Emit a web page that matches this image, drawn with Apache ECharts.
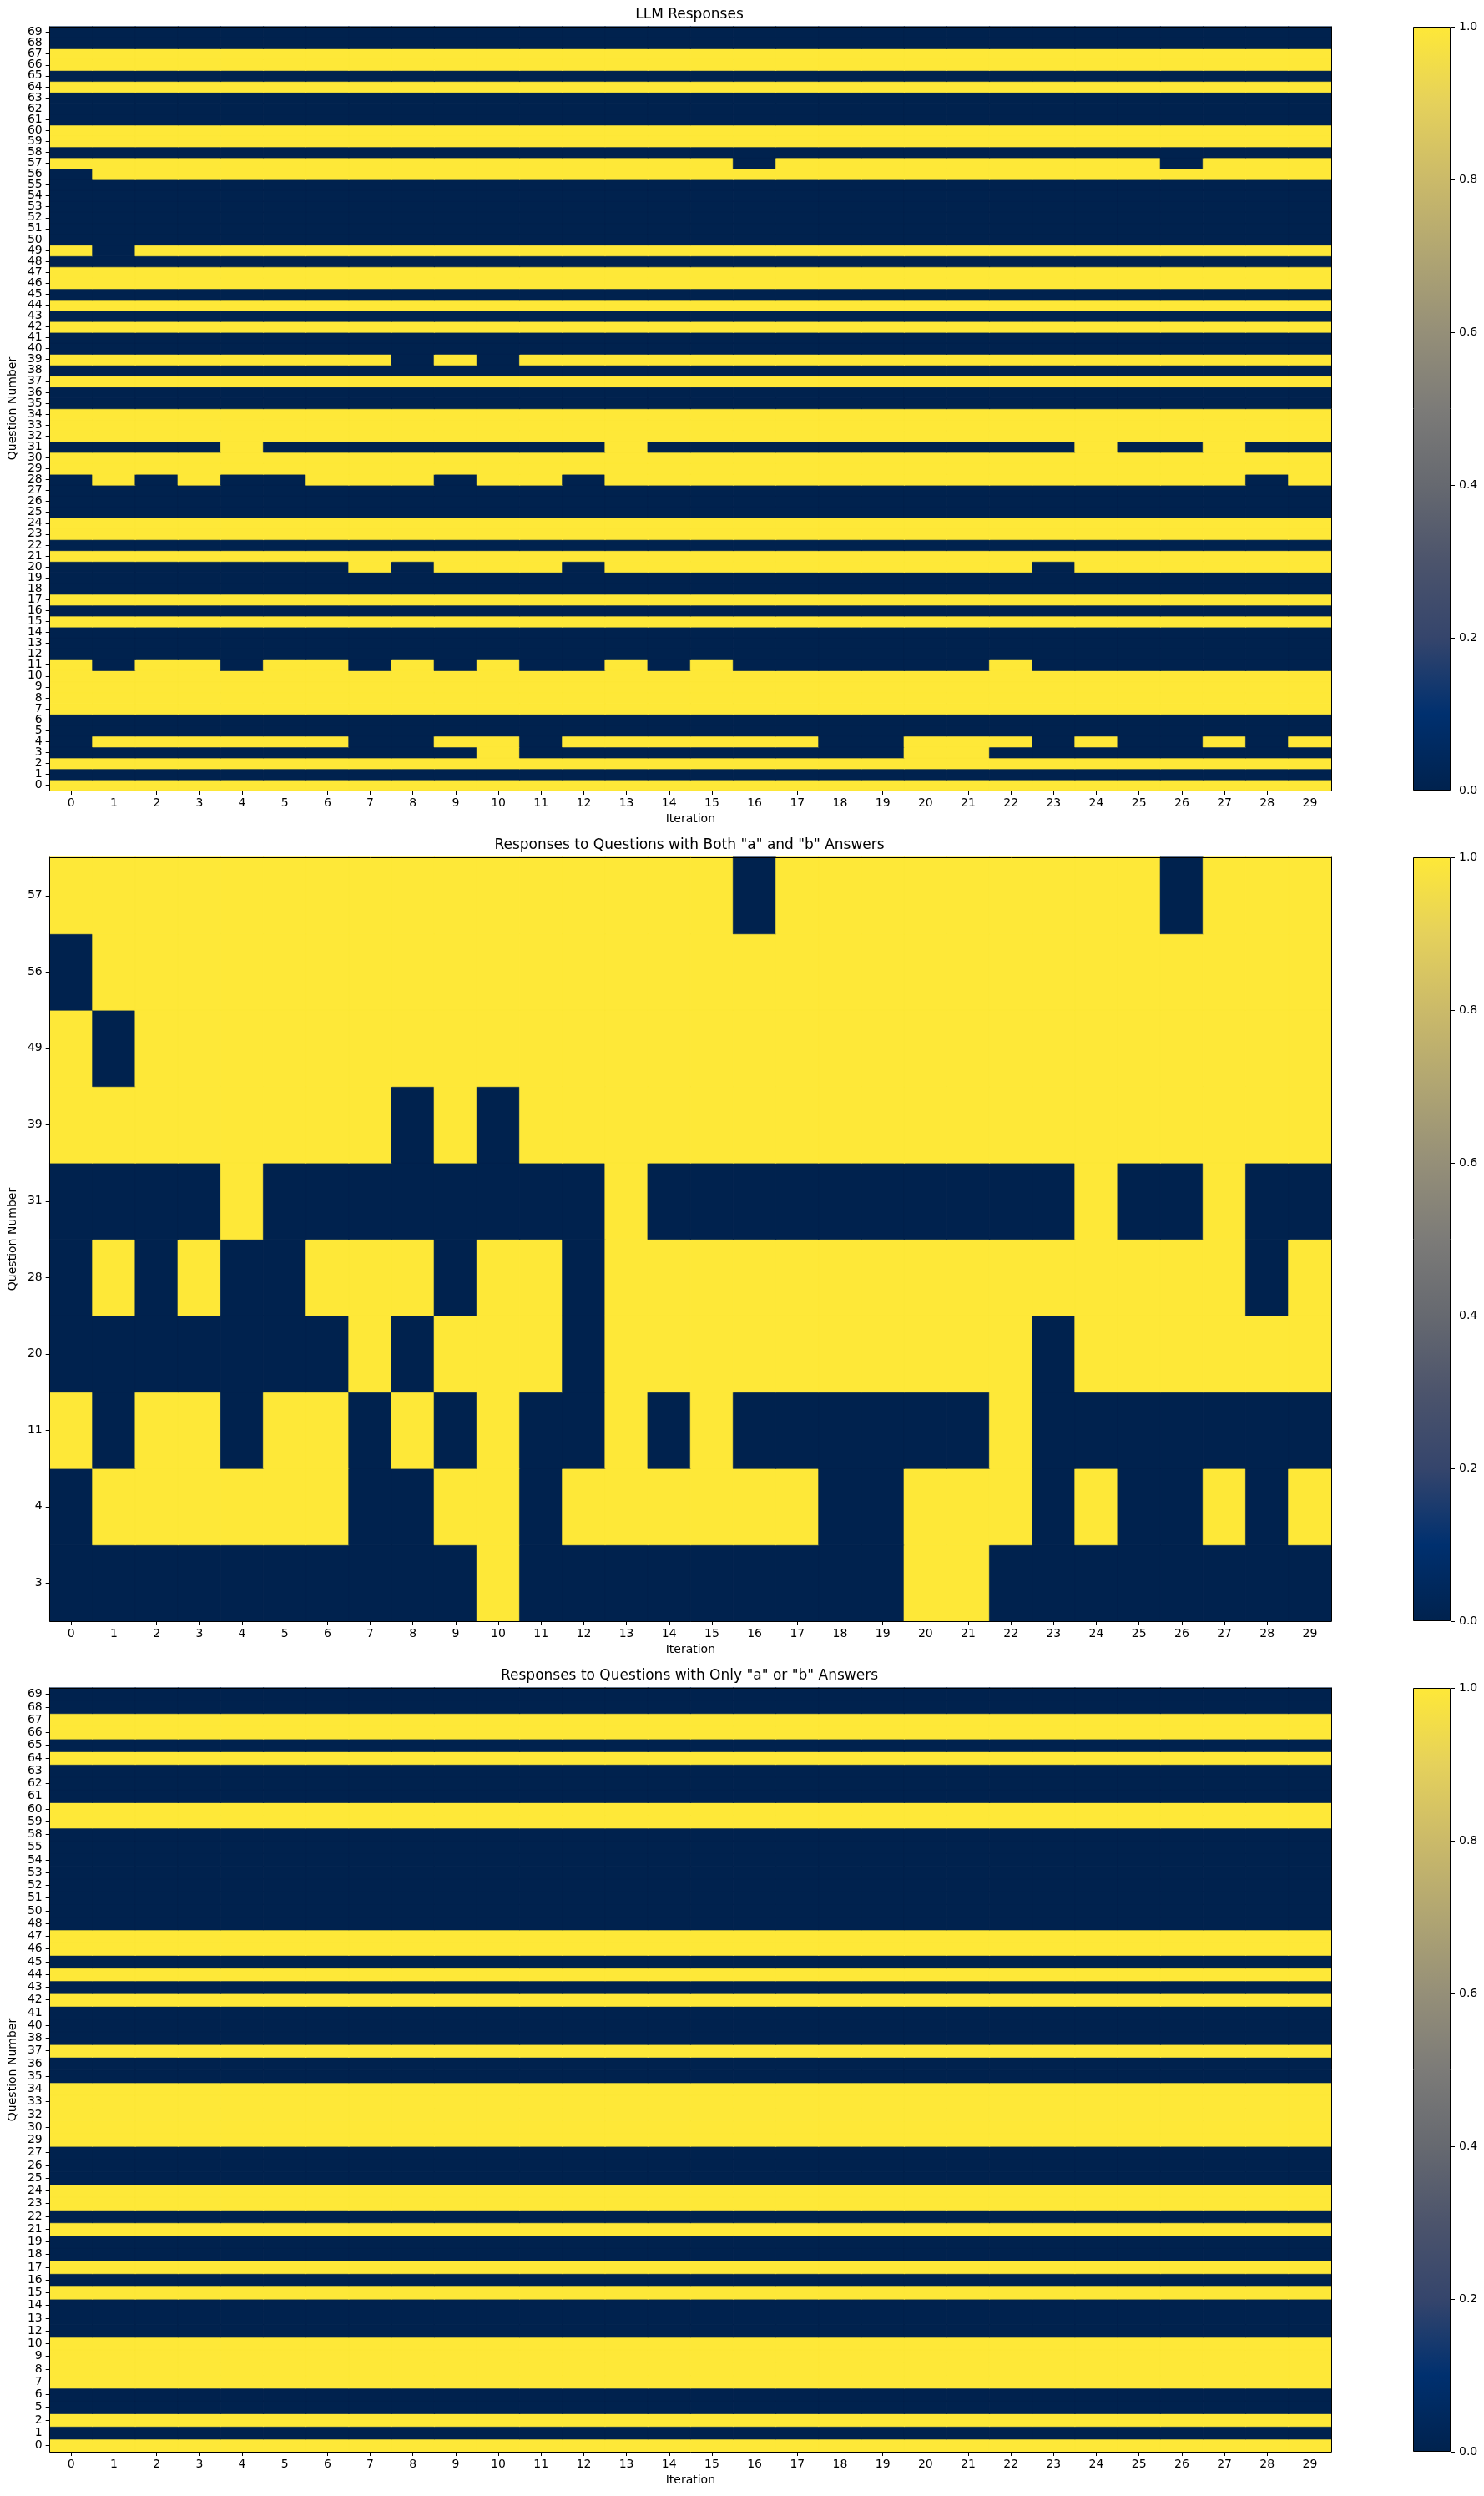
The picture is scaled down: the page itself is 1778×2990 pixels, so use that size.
<!DOCTYPE html>
<html>
<head>
<meta charset="utf-8">
<script src="https://cdn.jsdelivr.net/npm/echarts@6/dist/echarts.min.js"></script>
<style>
html,body{margin:0;padding:0;background:#fff;}
#chart{width:1778px;height:2990px;}
</style>
</head>
<body>
<div id="chart"></div>
<script>
// ---- Data ----
const iterationLabels = ['0','1','2','3','4','5','6','7','8','9','10','11','12','13','14','15','16','17','18','19','20','21','22','23','24','25','26','27','28','29'];

// Questions whose answer is the same in all 30 iterations
const constantQuestions = [0,1,2,5,6,7,8,9,10,12,13,14,15,16,17,18,19,21,22,23,24,25,26,27,29,30,32,33,34,35,36,37,38,40,41,42,43,44,45,46,47,48,50,51,52,53,54,55,58,59,60,61,62,63,64,65,66,67,68,69];
const constantValues    = [1,0,1,0,0,1,1,1,1,0,0,0,1,0,1,0,0,1,0,1,1,0,0,0,1,1,1,1,1,0,0,1,0,0,0,1,0,1,0,1,1,0,0,0,0,0,0,0,0,1,1,0,0,0,1,0,1,1,0,0];

// Questions with both "a" and "b" answers across iterations
const mixedQuestions = [3,4,11,20,28,31,39,49,56,57];
const q3  = [0,0,0,0,0,0,0,0,0,0,1,0,0,0,0,0,0,0,0,0,1,1,0,0,0,0,0,0,0,0];
const q4  = [0,1,1,1,1,1,1,0,0,1,1,0,1,1,1,1,1,1,0,0,1,1,1,0,1,0,0,1,0,1];
const q11 = [1,0,1,1,0,1,1,0,1,0,1,0,0,1,0,1,0,0,0,0,0,0,1,0,0,0,0,0,0,0];
const q20 = [0,0,0,0,0,0,0,1,0,1,1,1,0,1,1,1,1,1,1,1,1,1,1,0,1,1,1,1,1,1];
const q28 = [0,1,0,1,0,0,1,1,1,0,1,1,0,1,1,1,1,1,1,1,1,1,1,1,1,1,1,1,0,1];
const q31 = [0,0,0,0,1,0,0,0,0,0,0,0,0,1,0,0,0,0,0,0,0,0,0,0,1,0,0,1,0,0];
const q39 = [1,1,1,1,1,1,1,1,0,1,0,1,1,1,1,1,1,1,1,1,1,1,1,1,1,1,1,1,1,1];
const q49 = [1,0,1,1,1,1,1,1,1,1,1,1,1,1,1,1,1,1,1,1,1,1,1,1,1,1,1,1,1,1];
const q56 = [0,1,1,1,1,1,1,1,1,1,1,1,1,1,1,1,1,1,1,1,1,1,1,1,1,1,1,1,1,1];
const q57 = [1,1,1,1,1,1,1,1,1,1,1,1,1,1,1,1,0,1,1,1,1,1,1,1,1,1,0,1,1,1];
const mixedRows = [q3,q4,q11,q20,q28,q31,q39,q49,q56,q57];

const colorbarTicks = [0, 0.2, 0.4, 0.6, 0.8, 1.0];
const titles = ['LLM Responses', 'Responses to Questions with Both "a" and "b" Answers', 'Responses to Questions with Only "a" or "b" Answers'];

// cividis colormap
const cividis = ['#00224e','#00306f','#35456c','#4c546c','#666970','#7c7b78','#958f78','#b0a572','#cbba69','#e5d15b','#fee838'];

// ---- Build ----
function rowFor(q) {
  const mi = mixedQuestions.indexOf(q);
  if (mi >= 0) return mixedRows[mi];
  const ci = constantQuestions.indexOf(q);
  return iterationLabels.map(() => constantValues[ci]);
}
const allQuestions = [];
for (let q = 0; q < 70; q++) allQuestions.push(q);
const panelQuestions = [allQuestions, mixedQuestions, constantQuestions];

function heatData(qs) {
  const d = [];
  qs.forEach((q, yi) => {
    const r = rowFor(q);
    r.forEach((v, xi) => d.push({
      value: [xi, yi, v],
      itemStyle: {borderColor: v >= 0.5 ? cividis[cividis.length - 1] : cividis[0], borderWidth: 0.6}
    }));
  });
  return d;
}

const FONT = 'DejaVu Sans';
const panelTops = [32, 1027, 2022];
const panelH = 915;
const plotLeft = 57, plotW = 1538;
const cbLeft = 1693, cbW = 45;

const grids = [], xAxes = [], yAxes = [], series = [], titleArr = [];
const black = '#000';

panelTops.forEach((top, p) => {
  grids.push({left: plotLeft, top: top, width: plotW, height: panelH, containLabel: false});
  const cats = panelQuestions[p].map(String);
  xAxes.push({
    type: 'category', gridIndex: p, data: iterationLabels, position: 'bottom', z: 10,
    axisLine: {show: true, lineStyle: {color: black, width: 1}},
    axisTick: {show: true, alignWithLabel: true, length: 5, lineStyle: {color: black}},
    axisLabel: {interval: 0, color: black, fontFamily: FONT, fontSize: 14, margin: 8},
    splitLine: {show: false},
    name: 'Iteration', nameLocation: 'middle', nameGap: 27,
    nameTextStyle: {color: black, fontFamily: FONT, fontSize: 14}
  });
  xAxes.push({
    type: 'category', gridIndex: p, data: iterationLabels, position: 'top', z: 10,
    axisLine: {show: true, lineStyle: {color: black, width: 1}},
    axisTick: {show: false}, axisLabel: {show: false}, splitLine: {show: false}
  });
  yAxes.push({
    type: 'category', gridIndex: p, data: cats, position: 'left', z: 10,
    axisLine: {show: true, lineStyle: {color: black, width: 1}},
    axisTick: {show: true, alignWithLabel: true, length: 5, lineStyle: {color: black}},
    axisLabel: {interval: 0, color: black, fontFamily: FONT, fontSize: 14, margin: 9},
    splitLine: {show: false},
    name: 'Question Number', nameLocation: 'middle', nameGap: 33,
    nameTextStyle: {color: black, fontFamily: FONT, fontSize: 14}
  });
  yAxes.push({
    type: 'category', gridIndex: p, data: cats, position: 'right', z: 10,
    axisLine: {show: true, lineStyle: {color: black, width: 1}},
    axisTick: {show: false}, axisLabel: {show: false}, splitLine: {show: false}
  });
  series.push({
    type: 'heatmap', xAxisIndex: 2 * p, yAxisIndex: 2 * p,
    data: heatData(panelQuestions[p]), progressive: 0,
    emphasis: {disabled: true}
  });
  titleArr.push({
    text: titles[p], left: plotLeft + plotW / 2, top: top - 14,
    textAlign: 'center', textVerticalAlign: 'middle', padding: 0,
    textStyle: {color: black, fontFamily: FONT, fontSize: 17, fontWeight: 'normal'}
  });
});

// colorbars
const gradStops = cividis.map((c, i) => ({offset: i / (cividis.length - 1), color: c}));
panelTops.forEach((top, p) => {
  const gi = grids.length;
  grids.push({left: cbLeft, top: top, width: cbW, height: panelH});
  xAxes.push({type: 'category', gridIndex: gi, data: [''], show: false});
  yAxes.push({
    type: 'value', gridIndex: gi, min: 0, max: 1, interval: 0.2, position: 'right',
    axisLine: {show: false},
    axisTick: {show: true, length: 5, lineStyle: {color: black}},
    axisLabel: {color: black, fontFamily: FONT, fontSize: 14, margin: 10, formatter: v => v.toFixed(1)},
    splitLine: {show: false}
  });
  series.push({
    type: 'bar', xAxisIndex: xAxes.length - 1, yAxisIndex: yAxes.length - 1,
    data: [colorbarTicks[colorbarTicks.length - 1]], barWidth: '100%', silent: true,
    itemStyle: {
      color: new echarts.graphic.LinearGradient(0, 1, 0, 0, gradStops),
      borderColor: black, borderWidth: 1
    }
  });
});

const chart = echarts.init(document.getElementById('chart'), null, {renderer: 'canvas'});
chart.setOption({
  backgroundColor: '#fff',
  animation: false,
  title: titleArr,
  grid: grids,
  xAxis: xAxes,
  yAxis: yAxes,
  visualMap: {
    type: 'continuous', show: false, min: 0, max: 1, seriesIndex: [0, 1, 2],
    inRange: {color: cividis}
  },
  series: series
});
</script>
</body>
</html>
